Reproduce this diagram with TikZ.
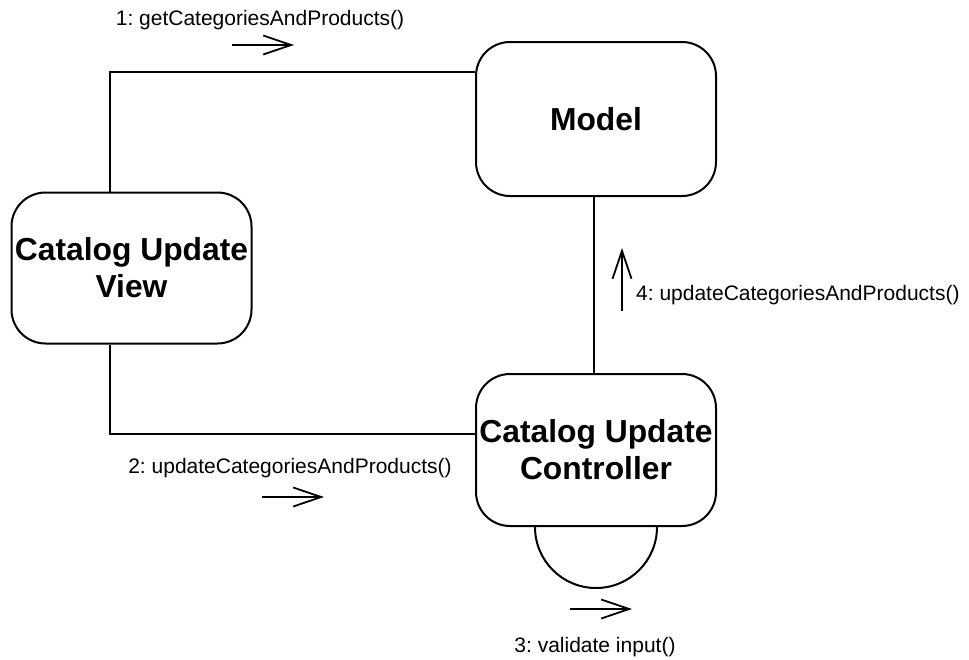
\documentclass[tikz,border=0pt]{standalone}
\usepackage{fontspec}
\setmainfont{Liberation Sans}
\usetikzlibrary{arrows.meta}

\tikzset{
  obj/.style={draw, line width=2pt, rounded corners=34pt, align=center, inner sep=0pt,
    minimum width=240pt, font=\fontsize{31.8}{37}\selectfont\bfseries},
  link/.style={line width=2pt},
  msg/.style={line width=1.8pt, -{Straight Barb[length=28pt,width=19pt]}},
  msglabel/.style={font=\fontsize{21}{25}\selectfont\frenchspacing, inner sep=0pt}
}

\begin{document}
\begin{tikzpicture}[x=1pt, y=-1pt]
  \useasboundingbox (0,0) rectangle (969,659);
  % objects
  \node[obj, minimum height=154pt](model) at (596,119){Model};
  \node[obj, minimum height=151pt](view) at (131.5,268){Catalog Update\\View};
  \node[obj, minimum height=152pt](ctrl) at (596,450){Catalog Update\\Controller};
  % links
  \draw[link] ([xshift=-21.5pt]view.north) |- ([yshift=47pt]model.west);
  \draw[link] ([xshift=-21.5pt]view.south) |- ([yshift=16pt]ctrl.west);
  \draw[link] ([xshift=-2pt]model.south) -- ([xshift=-2pt]ctrl.north);
  \draw[link] ([xshift=-61pt]ctrl.south) arc[start angle=180, end angle=360, radius=61pt];
  % messages
  \foreach \n/\x/\y/\t/\a/\b in {m1/260/25/{1: getCategoriesAndProducts()}/232/45,
                                 m2/290/473/{2: updateCategoriesAndProducts()}/262/497,
                                 m3/595/652/{3: validate input()}/570/609}{
    \node[msglabel, anchor=base](\n) at (\x,\y){\t};
    \draw[msg](\a,\b)--(\a+62,\b);
  }
  \node[msglabel, anchor=base west](m4) at (636,300){4: updateCategoriesAndProducts()};
  \draw[msg](622,311)--(622,248);
\end{tikzpicture}
\end{document}
